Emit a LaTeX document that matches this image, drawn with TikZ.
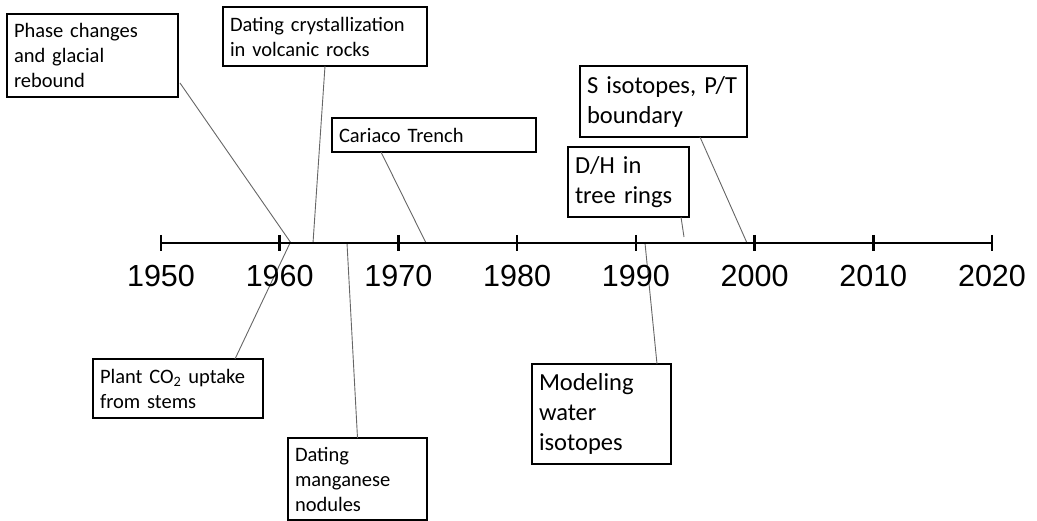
\documentclass[tikz,border=0pt]{standalone}
\usepackage{fontspec}
\setmainfont{Carlito}
\newfontfamily\yearfont{Liberation Sans}
\usetikzlibrary{positioning,calc}

\begin{document}
\begin{tikzpicture}[x=1pt, y=-1pt,
  box/.style={rectangle, draw, line width=2pt, anchor=north west, align=left, inner xsep=7pt, inner ysep=1pt, outer sep=0pt, font=\fontsize{20.5}{25}\selectfont},
  bigbox/.style={box, font=\fontsize{24.5}{30}\selectfont},
  leader/.style={draw=black!60, line width=0.9pt},
  yearlabel/.style={anchor=base, inner sep=0pt, font=\yearfont\fontsize{30.5}{36}\selectfont}]
  \useasboundingbox (0,0) rectangle (1037,521);

  \node[box, text width=157pt, minimum width=171pt, minimum height=83pt] (phase) at (7,14) {Phase changes\\and glacial\\rebound};
  \node[box, text width=190pt, minimum width=204pt, minimum height=59pt] (crystal) at (223,7) {Dating crystallization\\in volcanic rocks};
  \node[box, text width=190pt, minimum width=204pt, minimum height=34pt] (cariaco) at (332,118) {Cariaco Trench};
  \node[bigbox, text width=153pt, minimum width=167pt, minimum height=71pt] (sulfur) at (580,66) {S isotopes, P/T\\boundary};
  \node[bigbox, text width=107pt, minimum width=121pt, minimum height=70pt] (dh) at (568,147) {D/H in\\tree rings};
  \node[box, text width=156pt, minimum width=170pt, minimum height=59pt] (plant) at (93,359) {Plant CO\textsubscript{2} uptake\\from stems};
  \node[box, text width=125pt, minimum width=139pt, minimum height=82pt] (manganese) at (288,438) {Dating\\manganese\\nodules};
  \node[bigbox, text width=125pt, minimum width=139pt, minimum height=100pt] (model) at (532,364) {Modeling\\water\\isotopes};

  \coordinate (aphase) at (291,243);
  \coordinate (acrystal) at (313,243);
  \coordinate (acariaco) at (426,243);
  \coordinate (asulfur) at (747,243);
  \coordinate (adh) at (684,237);
  \coordinate (aplant) at (290,243);
  \coordinate (amanganese) at (347,243);
  \coordinate (amodel) at (645,243);

  \draw[leader] ($(phase.south east)+(2,-14)$) -- (aphase);
  \draw[leader] (crystal.south) -- (acrystal);
  \draw[leader] ($(cariaco.south west)+(49,0)$) -- (acariaco);
  \draw[leader] ($(sulfur.south west)+(120,0)$) -- (asulfur);
  \draw[leader] ($(dh.south east)+(-8,0)$) -- (adh);
  \draw[leader] ($(plant.north west)+(142,0)$) -- (aplant);
  \draw[leader] (manganese.north) -- (amanganese);
  \draw[leader] ($(model.north east)+(-14,0)$) -- (amodel);

  \draw[line width=2.5pt] (161,243) -- (992,243);
  \foreach \yr [count=\i from 0] in {1950,1960,...,2020} {
    \draw[line width=2.5pt] ({161+118.71*\i},235) -- ({161+118.71*\i},251);
    \node[yearlabel] (y\yr) at ({161+118.71*\i},287) {\yr};
  }
\end{tikzpicture}
\end{document}
